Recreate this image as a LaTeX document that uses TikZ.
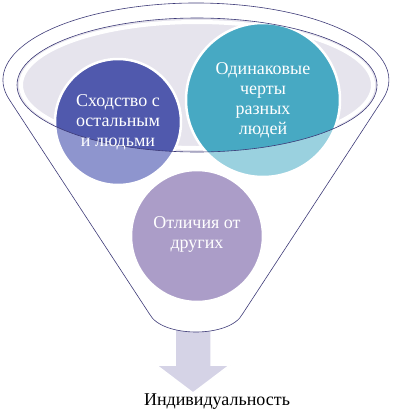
\documentclass[tikz,border=0pt]{standalone}
\usepackage{fontspec}
\setmainfont{Liberation Serif}
\usetikzlibrary{calc}
\definecolor{outl}{HTML}{3E3B78}
\definecolor{ellfill}{HTML}{E6E4ED}
\definecolor{bluel}{HTML}{8E95CE}
\definecolor{blued}{HTML}{5059AD}
\definecolor{teall}{HTML}{9AD1DF}
\definecolor{teald}{HTML}{47A9C3}
\definecolor{purp}{HTML}{AB9DC8}
\definecolor{arrowc}{HTML}{D5D3E6}
\begin{document}
\begin{tikzpicture}[x=1pt,y=-1pt,
  outline/.style={draw=outl, line width=0.6pt},
  ring/.style={draw=white, line width=2.5pt},
  label/.style={text=white, align=center, inner sep=0pt, font=\fontsize{18}{20}\selectfont},
]
\useasboundingbox (0,0) rectangle (402,416);
% arrow
\fill[arrowc, draw=white, line width=1.5pt] (175,320) -- (211,320) -- (211,365) -- (230,365) -- (193,393) -- (156,365) -- (175,365) -- cycle;
% funnel outline
\path[fill=white, outline] (9.2,99.4) arc[start angle=165.4, end angle=374.6, x radius=193, y radius=77]
  -- (242.5,314) .. controls (230,338) and (162,338) .. (149.5,314) -- cycle;
% inner ellipse
\fill[ellfill] (197,85) ellipse [x radius=180, y radius=67];
\draw[white, line width=4pt] (197,85) ellipse [x radius=176, y radius=63];
% circles
\coordinate (bc) at (118,122);
\coordinate (tc) at (263,100);
\coordinate (pc) at (197,236);
\fill[bluel] (bc) circle (63);
\fill[teall] (tc) circle (77);
\fill[purp] (pc) circle (66);
\begin{scope}
  \clip (197,85) ellipse [x radius=180, y radius=67];
  \fill[blued] (bc) circle (63);
  \fill[teald] (tc) circle (77);
\end{scope}
\draw[ring] (bc) circle (63);
\draw[ring] (tc) circle (77);
\draw[ring] (pc) circle (66);
\draw[outline] (197,85) ellipse [x radius=180, y radius=67];
% texts
\node[label] (b) at (bc) {Сходство с\\остальным\\и людьми};
\node[label] (t) at (tc) {Одинаковые\\черты\\разных\\людей};
\node[label] (p) at ($(pc)+(0,-2)$) {Отличия от\\других};
\node[inner sep=0pt, font=\fontsize{18}{20}\selectfont] (ind) at (217,402) {Индивидуальность};
\end{tikzpicture}
\end{document}
